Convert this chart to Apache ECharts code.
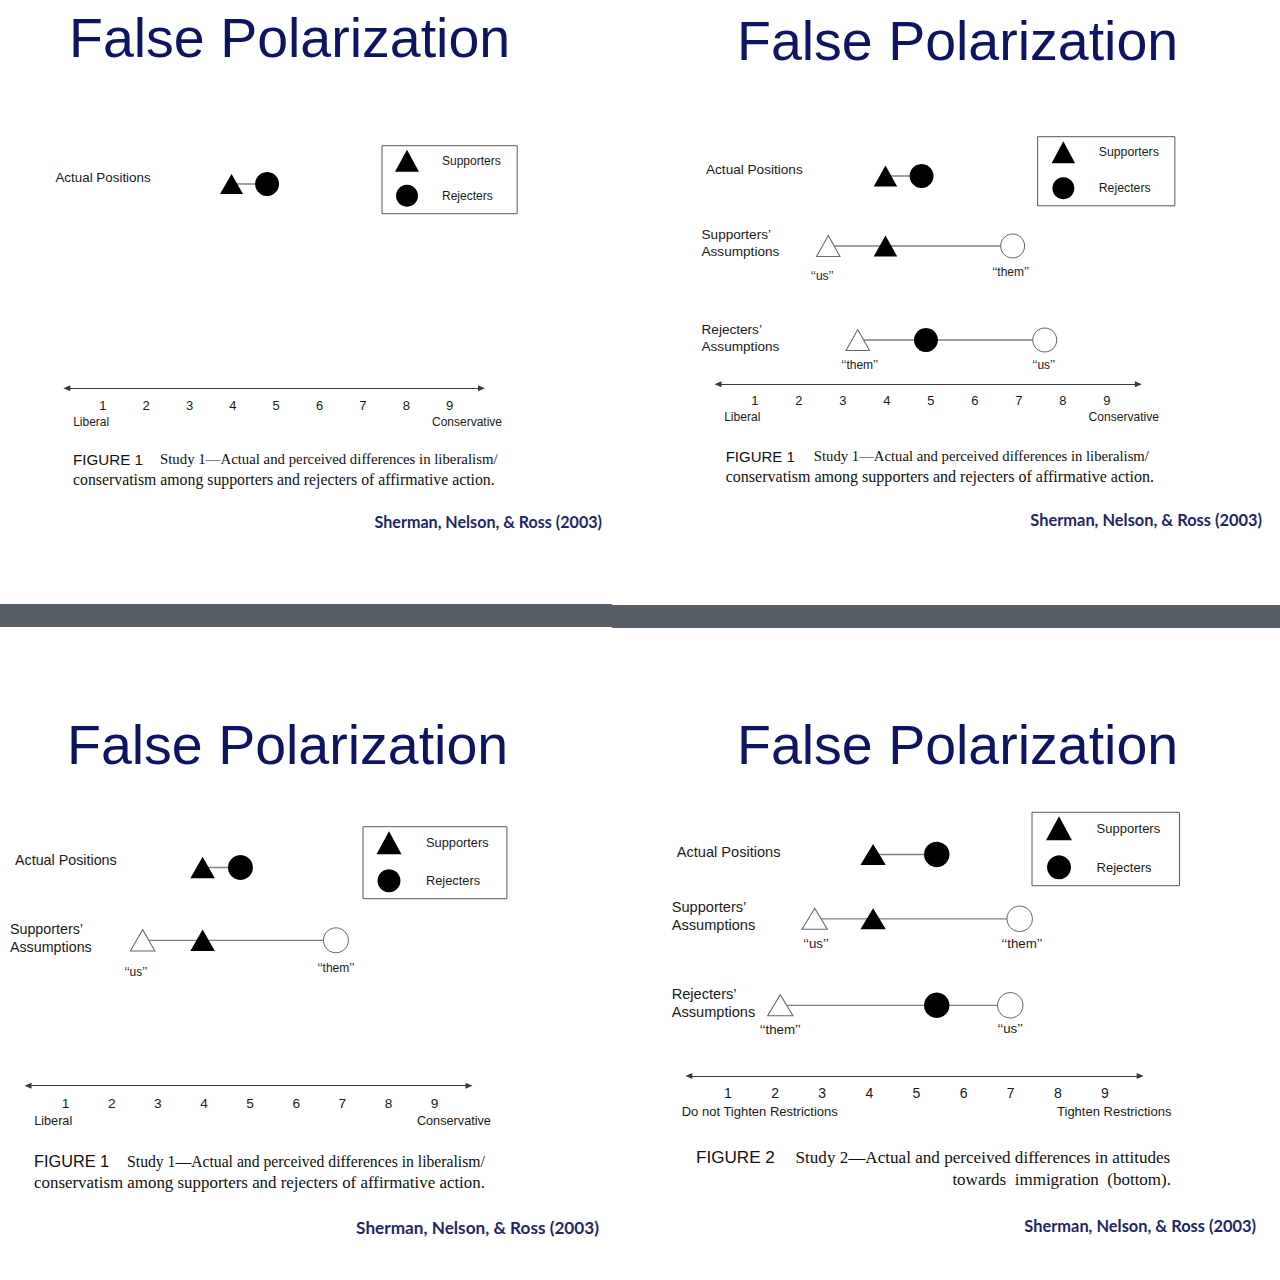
<!DOCTYPE html>
<html><head><meta charset="utf-8">
<script src="https://cdn.jsdelivr.net/npm/echarts@6/dist/echarts.min.js"></script>
<style>html,body{margin:0;padding:0;background:#fff}#c{width:1280px;height:1280px}</style>
</head><body><div id="c"></div>
<script>
// ---------------- data ----------------
const slideTitle = 'False Polarization';
const tickLabels = [1, 2, 3, 4, 5, 6, 7, 8, 9];
const rowLabels = ['Actual Positions', "Supporters\u2019\nAssumptions", "Rejecters\u2019\nAssumptions"];
const legendNames = ['Supporters', 'Rejecters'];
const pointLabels = ['\u2018\u2018us\u2019\u2019', '\u2018\u2018them\u2019\u2019'];
const study1EndLabels = ['Liberal', 'Conservative'];
const study2EndLabels = ['Do not Tighten Restrictions', 'Tighten Restrictions'];
// Study 1 (liberalism / conservatism)
const study1Actual = [3.97, 4.79];                 // supporters, rejecters
const study1SupportersAssume = [2.67, 3.97, 6.86]; // "us", own position, "them"
const study1RejectersAssume = [3.34, 4.89, 7.59];  // "them", own position, "us"
// Study 2 (immigration restrictions)
const study2Actual = [4.08, 5.43];
const study2SupportersAssume = [2.84, 4.08, 7.19];
const study2RejectersAssume = [2.11, 5.43, 6.99];
const figure1Caption = ['FIGURE 1', 'Study 1\u2014Actual and perceived differences in liberalism/', 'conservatism among supporters and rejecters of affirmative action.'];
const figure2Caption = ['FIGURE 2', 'Study 2\u2014Actual and perceived differences in attitudes', 'towards  immigration  (bottom).'];
const citation = 'Sherman, Nelson, & Ross (2003)';

const studies = {
  1: {actual: study1Actual, supporters: study1SupportersAssume, rejecters: study1RejectersAssume, ends: study1EndLabels, caption: figure1Caption},
  2: {actual: study2Actual, supporters: study2SupportersAssume, rejecters: study2RejectersAssume, ends: study2EndLabels, caption: figure2Caption}
};

// ---------------- layout ----------------
const SANS = '"Liberation Sans", Arial, Helvetica, sans-serif';
const SERIF = '"Liberation Serif", "Times New Roman", serif';
const CITE = 'Lato, "Open Sans", sans-serif';
const TITLE_C = '#0d1462';
const CITE_C = '#1f2768';
const TXT = '#1a1a1a';
const ROW_H = 30;

const panels = [
  { study: 1, x1: 102.8, ppu: 43.35, tipL: 63.3, tipR: 485, axisY: 388.3,
    tickFs: 13, tickCy: 405, endFs: 12, endCy: 421.7, endCx: [91.2, 467],
    rowFs: 13.4, rowLh: 17, labFs: 12, tri: [23, 20], circ: 24,
    rows: [{kind: 'actual', y: 184, labelX: 55.4, labelCy: 177.3}],
    legend: {left: 382, top: 145.7, iw: 24, ih: 22, gap: 13, pad: [4, 16.5, 7, 13], textPad: 18, fs: 12},
    title: {x: 69, cy: 37.5},
    cap: {x: 73, cy: [459, 479], fs: [15.2, 14.8, 15.8], gap: 17},
    cite: {x: 602, cy: 521, fs: 16.1} },
  { study: 1, x1: 754.8, ppu: 44, tipL: 714.5, tipR: 1141.8, axisY: 384.3,
    tickFs: 13, tickCy: 400.7, endFs: 12.1, endCy: 417, endCx: [742.3, 1123.8],
    rowFs: 13.6, rowLh: 16.7, labFs: 12, tri: [23.5, 21], circ: 24,
    rows: [
      {kind: 'actual', y: 176, labelX: 706, labelCy: 169.3},
      {kind: 'supporters', y: 246, labelX: 701.5, labelCy: 243.3, lab: [[-6, 29.7], [-2, 26]]},
      {kind: 'rejecters', y: 340, labelX: 701.5, labelCy: 337.7, lab: [[2, 25], [-1, 25.3]]}],
    legend: {left: 1037.6, top: 136.7, iw: 23.5, ih: 22, gap: 14, pad: [4.6, 16, 6.5, 14], textPad: 18.6, fs: 12.3},
    title: {x: 737, cy: 41},
    cap: {x: 725.7, cy: [456, 476], fs: [15, 14.7, 16.06], gap: 19},
    cite: {x: 1262, cy: 519, fs: 16.4} },
  { study: 1, x1: 65.6, ppu: 46.13, tipL: 24.5, tipR: 472.5, axisY: 1085.7,
    tickFs: 13.7, tickCy: 1103.3, endFs: 12.7, endCy: 1121, endCx: [53.2, 453.9],
    rowFs: 14.3, rowLh: 18, labFs: 12, tri: [24.5, 21.5], circ: 25,
    rows: [
      {kind: 'actual', y: 867.5, labelX: 15, labelCy: 860.3},
      {kind: 'supporters', y: 940.3, labelX: 9.9, labelCy: 938, lab: [[-6.7, 31.8], [0, 27.7]]}],
    legend: {left: 363, top: 826.7, iw: 25, ih: 23, gap: 15, pad: [4.5, 18.3, 6.5, 13.5], textPad: 19.5, fs: 12.8},
    title: {x: 67, cy: 745},
    cap: {x: 34, cy: [1161, 1182], fs: [16.3, 15.7, 16.9], gap: 18},
    cite: {x: 599, cy: 1227, fs: 17.2} },
  { study: 2, x1: 728, ppu: 47.12, tipL: 685.3, tipR: 1143.7, axisY: 1076,
    tickFs: 14, tickCy: 1093.3, endFs: 13, endCy: 1111.7, endCx: [759.75, 1114.25],
    rowFs: 14.6, rowLh: 17.7, labFs: 13.3, tri: [25.4, 21], circ: 25.5,
    rows: [
      {kind: 'actual', y: 854.5, labelX: 676.7, labelCy: 851.7},
      {kind: 'supporters', y: 918.8, labelX: 671.7, labelCy: 916.2, lab: [[1.2, 25], [2.3, 25]]},
      {kind: 'rejecters', y: 1005.3, labelX: 671.7, labelCy: 1003.2, lab: [[0, 24], [0, 23.4]]}],
    legend: {left: 1032, top: 812.3, iw: 26, ih: 24, gap: 15, pad: [4, 19.3, 6.4, 14], textPad: 19.6, fs: 13},
    title: {x: 737, cy: 745},
    cap: {x: 696, cy: [1157, 1179], fs: [17.1, 17.1, 17], gap: 20.7, line2Right: 1171},
    cite: {x: 1256, cy: 1225, fs: 16.4} }
];

const grids = [], xAxes = [], yAxes = [], series = [], legends = [], graphics = [];
const ARROW = [6, 7];

function markerSeries(name, p, xi, yi, items) {
  const filled = name === legendNames[0] || name === legendNames[1];
  const isTri = name === legendNames[0] || name === 'Assumed supporters';
  return {
    type: 'scatter', name, xAxisIndex: xi, yAxisIndex: yi, z: 3, silent: true,
    symbol: isTri ? 'triangle' : 'circle',
    symbolSize: isTri ? p.tri : p.circ,
    itemStyle: filled ? {color: '#000', opacity: 1} : {color: '#fff', borderColor: '#666', borderWidth: 1, opacity: 1},
    data: items
  };
}

panels.forEach((p) => {
  const st = studies[p.study];
  const vmin = 1 + (p.tipL + ARROW[1] / 2 - p.x1) / p.ppu;
  const vmax = 1 + (p.tipR - ARROW[1] / 2 - p.x1) / p.ppu;
  const left = p.x1 + (vmin - 1) * p.ppu;
  const width = (vmax - vmin) * p.ppu;

  // ---- scale axis ----
  grids.push({left, top: p.axisY - 10, width, height: 10, outerBoundsMode: 'none', containLabel: false});
  let gi = grids.length - 1;
  xAxes.push({
    gridIndex: gi, type: 'value', min: vmin, max: vmax, position: 'bottom',
    axisLine: {show: true, symbol: ['triangle', 'triangle'], symbolSize: ARROW, lineStyle: {color: '#3a3a3a', width: 1.2}},
    axisTick: {show: false}, splitLine: {show: false},
    axisLabel: {customValues: tickLabels, color: TXT, fontFamily: SANS, fontSize: p.tickFs, lineHeight: p.tickFs,
      margin: p.tickCy - p.axisY - p.tickFs / 2}
  });
  const endVals = p.endCx.map(cx => 1 + (cx - p.x1) / p.ppu);
  xAxes.push({
    gridIndex: gi, type: 'value', min: vmin, max: vmax, position: 'bottom',
    axisLine: {show: false}, axisTick: {show: false}, splitLine: {show: false},
    axisLabel: {customValues: endVals, formatter: v => (v < 5 ? st.ends[0] : st.ends[1]), color: TXT,
      fontFamily: SANS, fontSize: p.endFs, lineHeight: p.endFs, margin: p.endCy - p.axisY - p.endFs / 2}
  });
  yAxes.push({gridIndex: gi, type: 'value', show: false});

  // ---- rows (each row is its own grid; marks sit at y = 0) ----
  p.rows.forEach(r => {
    grids.push({left, top: r.y - ROW_H / 2, width, height: ROW_H, outerBoundsMode: 'none', containLabel: false});
    gi = grids.length - 1;
    const xi = xAxes.length, yi = yAxes.length;
    const label = r.kind === 'actual' ? rowLabels[0] : r.kind === 'supporters' ? rowLabels[1] : rowLabels[2];
    xAxes.push({gridIndex: gi, type: 'value', min: vmin, max: vmax, show: false});
    const labelPos = (r.y - r.labelCy) / (ROW_H / 2);
    yAxes.push({
      gridIndex: gi, type: 'value', min: -1, max: 1,
      axisLine: {show: false}, axisTick: {show: false}, splitLine: {show: false},
      axisLabel: {customValues: [labelPos], formatter: () => label, align: 'left', margin: left - r.labelX,
        color: TXT, fontFamily: SANS, fontSize: p.rowFs, lineHeight: p.rowLh}
    });
    const vals = st[r.kind];
    const sorted = vals.slice().sort((a, b) => a - b);
    series.push({
      type: 'line', xAxisIndex: xi, yAxisIndex: yi, z: 1, silent: true, symbol: 'none',
      lineStyle: {color: '#808080', width: 1.3},
      data: [[sorted[0], 0], [sorted[sorted.length - 1], 0]]
    });
    const lab = (text, off) => ({show: true, position: 'inside', offset: off, formatter: text,
      color: TXT, fontFamily: SANS, fontSize: p.labFs});
    if (r.kind === 'actual') {
      series.push(markerSeries(legendNames[0], p, xi, yi, [[vals[0], 0]]));
      series.push(markerSeries(legendNames[1], p, xi, yi, [[vals[1], 0]]));
    } else {
      const openTriText = r.kind === 'supporters' ? pointLabels[0] : pointLabels[1];
      const openCircText = r.kind === 'supporters' ? pointLabels[1] : pointLabels[0];
      series.push(markerSeries('Assumed supporters', p, xi, yi, [{value: [vals[0], 0], label: lab(openTriText, r.lab[0])}]));
      series.push(markerSeries('Assumed rejecters', p, xi, yi, [{value: [vals[2], 0], label: lab(openCircText, r.lab[1])}]));
      series.push(markerSeries(r.kind === 'supporters' ? legendNames[0] : legendNames[1], p, xi, yi, [[vals[1], 0]]));
    }
  });

  // ---- legend ----
  const L = p.legend;
  legends.push({
    left: L.left, top: L.top, orient: 'vertical', padding: L.pad,
    itemWidth: L.iw, itemHeight: L.ih, itemGap: L.gap,
    borderColor: '#5a5a5a', borderWidth: 1, backgroundColor: '#fff', selectedMode: false,
    itemStyle: {color: '#000', opacity: 1},
    data: [{name: legendNames[0], icon: 'triangle'}, {name: legendNames[1], icon: 'circle'}],
    textStyle: {fontFamily: SANS, fontSize: L.fs, color: TXT, padding: [0, 0, 0, L.textPad]}
  });

  // ---- slide texts ----
  graphics.push({type: 'text', x: p.title.x, y: p.title.cy, silent: true,
    style: {text: slideTitle, fill: TITLE_C, font: '55.5px ' + SANS, align: 'left', verticalAlign: 'middle'}});
  const c = p.cap, cap = st.caption;
  graphics.push({type: 'text', x: c.x, y: c.cy[0], silent: true,
    style: {text: '{f|' + cap[0] + '}{t|' + cap[1] + '}', align: 'left', verticalAlign: 'middle',
      rich: {f: {fontFamily: SANS, fontSize: c.fs[0], fill: '#111', padding: [0, c.gap, 0, 0]},
             t: {fontFamily: SERIF, fontSize: c.fs[1], fill: '#111'}}}});
  graphics.push({type: 'text', x: c.line2Right ? c.line2Right : c.x, y: c.cy[1], silent: true,
    style: {text: cap[2], fill: '#111', font: c.fs[2] + 'px ' + SERIF, align: c.line2Right ? 'right' : 'left', verticalAlign: 'middle'}});
  graphics.push({type: 'text', x: p.cite.x, y: p.cite.cy, silent: true,
    style: {text: citation, fill: CITE_C, font: 'bold ' + p.cite.fs + 'px ' + CITE, align: 'right', verticalAlign: 'middle'}});
});

// slide separator band
graphics.push({type: 'rect', silent: true, shape: {x: 0, y: 604, width: 612, height: 23}, style: {fill: '#575e66'}});
graphics.push({type: 'rect', silent: true, shape: {x: 612, y: 605, width: 668, height: 23}, style: {fill: '#575e66'}});

const chart = echarts.init(document.getElementById('c'), null, {renderer: 'svg', width: 1280, height: 1280});
chart.setOption({
  animation: false,
  backgroundColor: '#fff',
  grid: grids, xAxis: xAxes, yAxis: yAxes, series, legend: legends, graphic: graphics
});
</script>
</body></html>
